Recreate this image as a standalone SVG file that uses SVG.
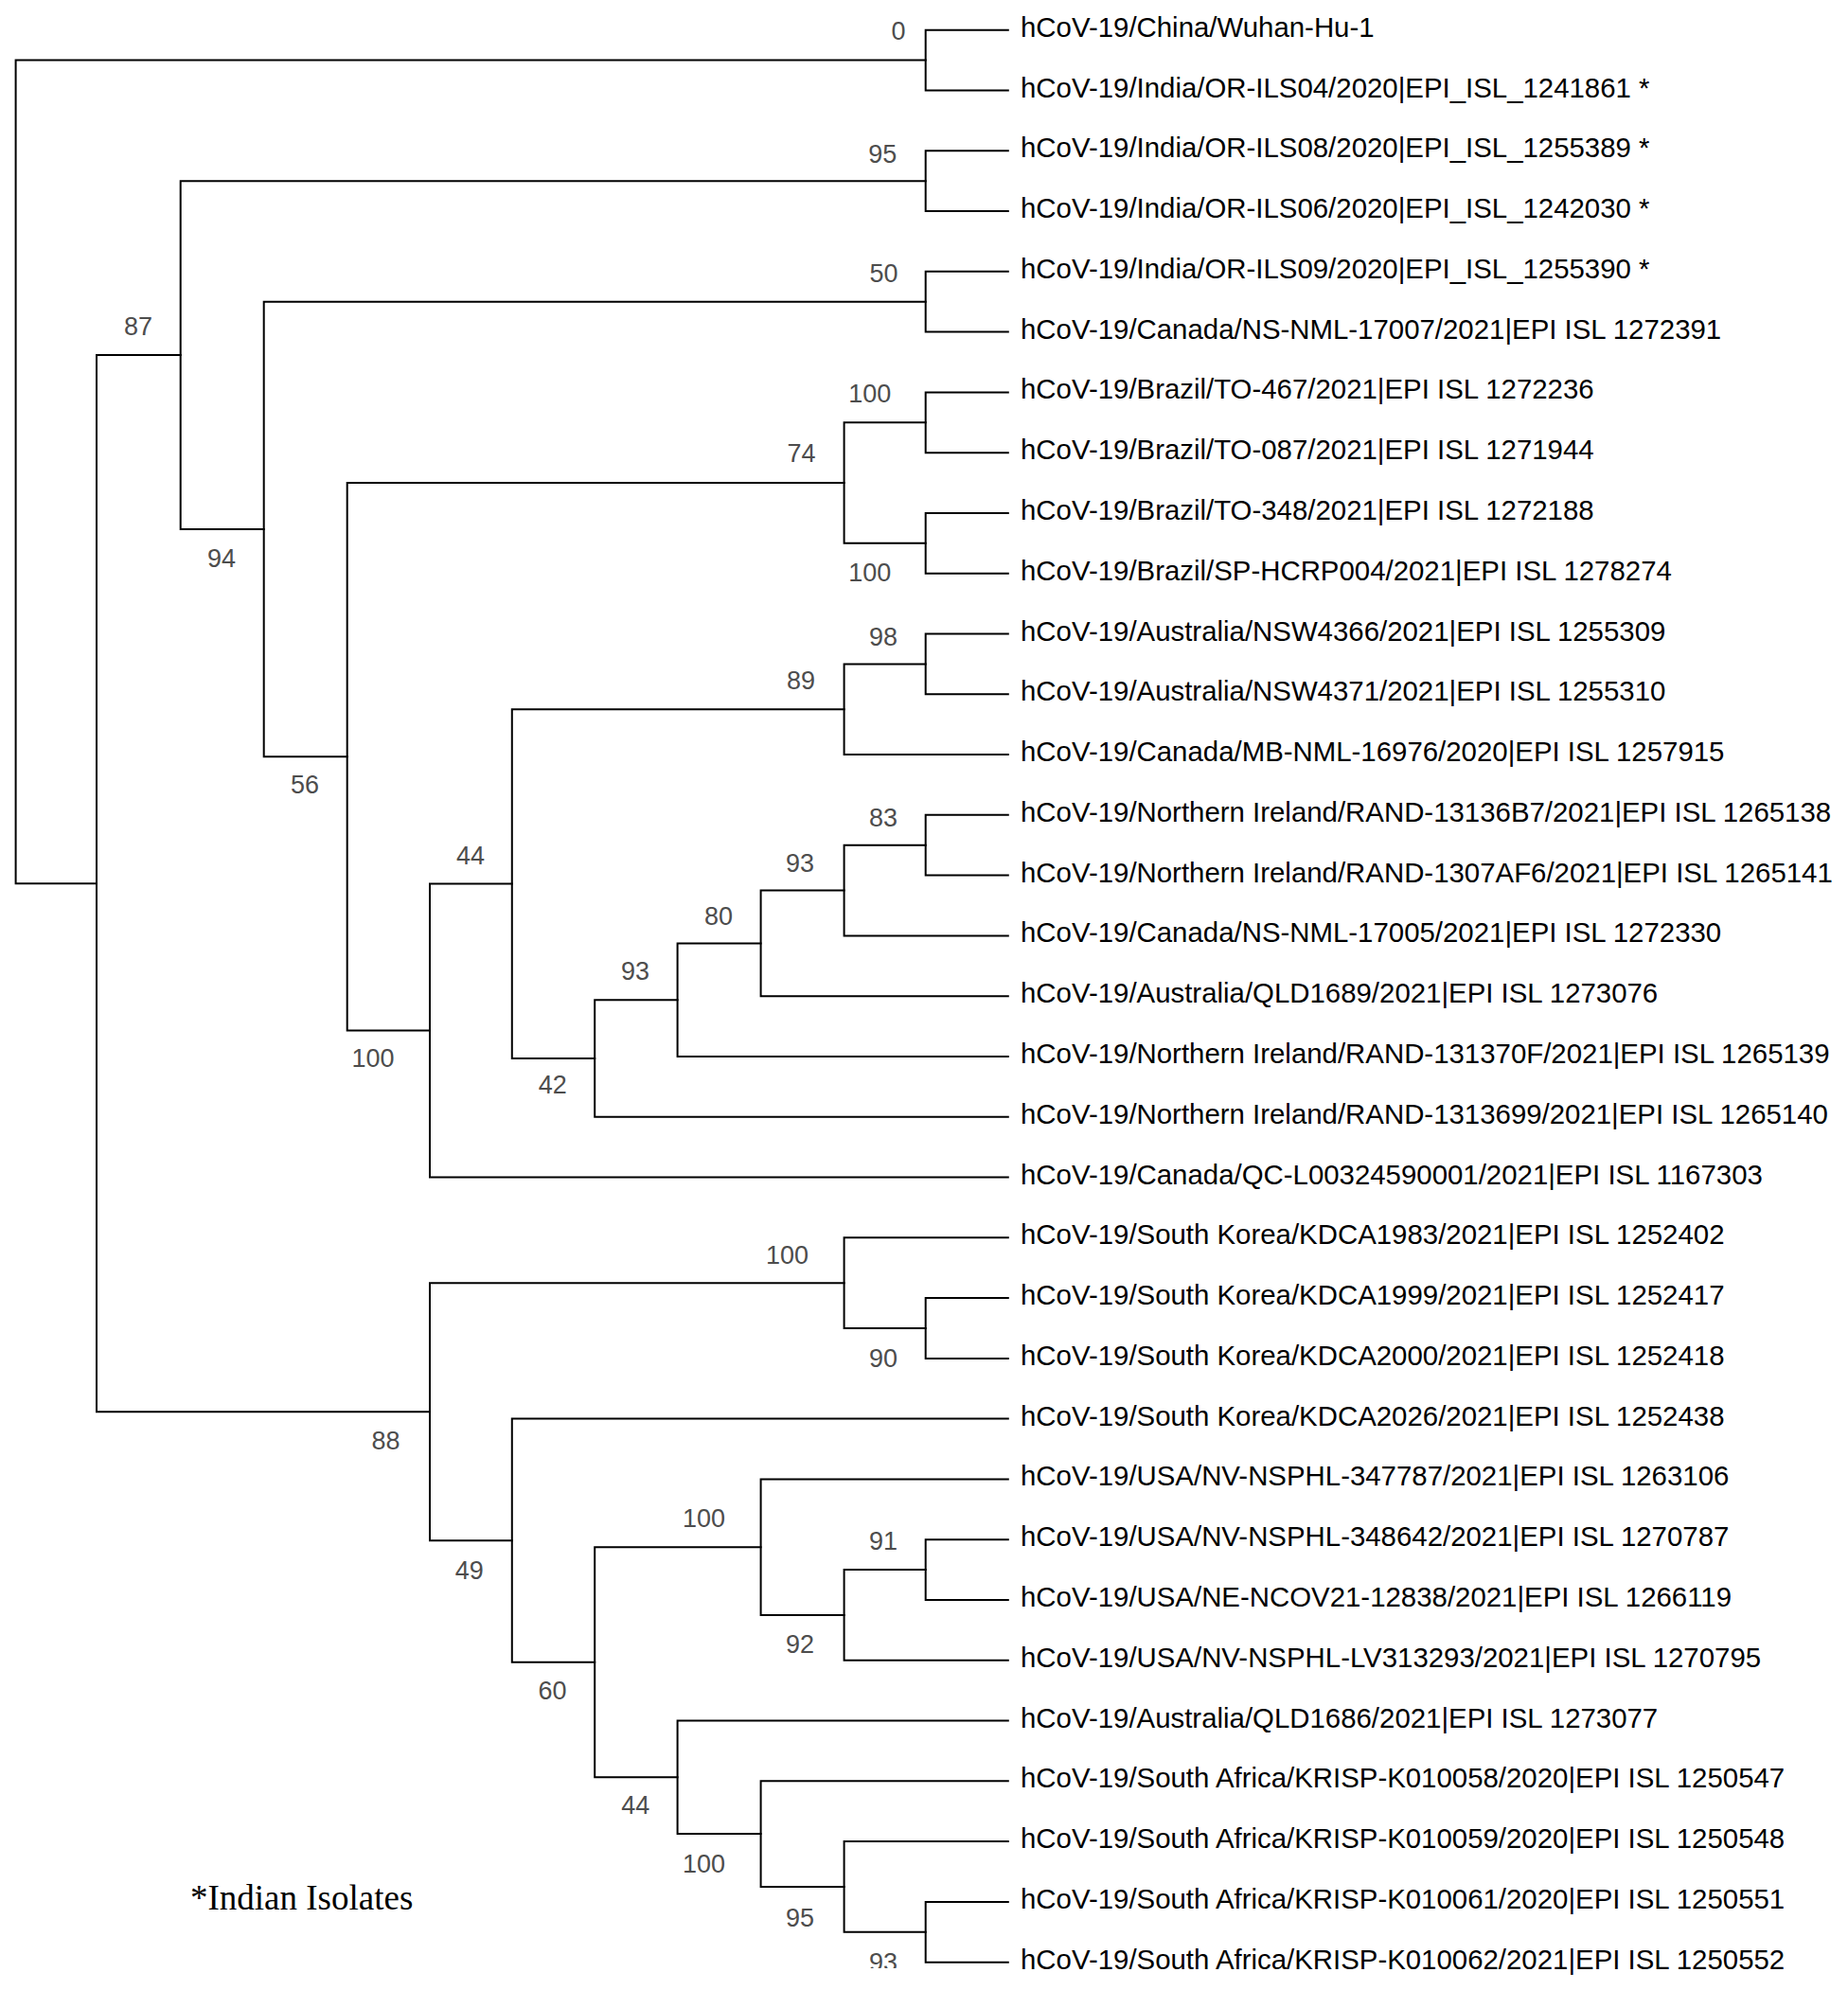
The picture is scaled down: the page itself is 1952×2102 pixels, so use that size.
<svg xmlns="http://www.w3.org/2000/svg" width="1952" height="2102" viewBox="0 0 1952 2102">
<style>
.br{fill:none;stroke:#000;stroke-width:2;stroke-linecap:square;stroke-linejoin:miter}
.leaf{font-family:"Liberation Sans",Arial,sans-serif;font-size:29.4px;fill:#000}
.bs{font-family:"Liberation Sans",Arial,sans-serif;font-size:27px;fill:#4d4d4d}
.note{font-family:"Liberation Serif","Times New Roman",serif;font-size:37px;fill:#000}
</style>
<defs>
<clipPath id="bottomClip"><rect x="0" y="0" width="1952" height="2079"/></clipPath>
</defs>
<rect x="0" y="0" width="1952" height="2102" fill="#fff"/>
<g id="connectors">
<path class="br" d="M977.7,63.6 H16.6 V933.15 H102"/>
<path class="br" d="M1064.8,31.7 H977.7 V95.5 H1064.8"/>
<path class="br" d="M190.7,375.1 H102 V1491.2 H454"/>
<path class="br" d="M977.7,191.15 H190.7 V559 H278.7"/>
<path class="br" d="M1064.8,159.3 H977.7 V223 H1064.8"/>
<path class="br" d="M977.7,318.7 H278.7 V799.3 H366.7"/>
<path class="br" d="M1064.8,286.8 H977.7 V350.6 H1064.8"/>
<path class="br" d="M891.6,510.05 H366.7 V1088.55 H454"/>
<path class="br" d="M977.7,446.3 H891.6 V573.8 H977.7"/>
<path class="br" d="M1064.8,414.4 H977.7 V478.2 H1064.8"/>
<path class="br" d="M1064.8,541.9 H977.7 V605.7 H1064.8"/>
<path class="br" d="M540.8,933.6 H454 V1243.5 H1064.8"/>
<path class="br" d="M891.6,749.25 H540.8 V1117.95 H628.2"/>
<path class="br" d="M977.7,701.4 H891.6 V797.1 H1064.8"/>
<path class="br" d="M1064.8,669.5 H977.7 V733.3 H1064.8"/>
<path class="br" d="M715.6,1056.2 H628.2 V1179.7 H1064.8"/>
<path class="br" d="M803.6,996.4 H715.6 V1116 H1064.8"/>
<path class="br" d="M891.6,940.55 H803.6 V1052.2 H1064.8"/>
<path class="br" d="M977.7,892.7 H891.6 V988.4 H1064.8"/>
<path class="br" d="M1064.8,860.8 H977.7 V924.6 H1064.8"/>
<path class="br" d="M891.6,1355.15 H454 V1627.2 H540.8"/>
<path class="br" d="M1064.8,1307.3 H891.6 V1403 H977.7"/>
<path class="br" d="M1064.8,1371.1 H977.7 V1434.9 H1064.8"/>
<path class="br" d="M1064.8,1498.6 H540.8 V1755.75 H628.2"/>
<path class="br" d="M803.6,1634.2 H628.2 V1877.3 H715.6"/>
<path class="br" d="M1064.8,1562.4 H803.6 V1705.95 H891.6"/>
<path class="br" d="M977.7,1658.1 H891.6 V1753.8 H1064.8"/>
<path class="br" d="M1064.8,1626.2 H977.7 V1690 H1064.8"/>
<path class="br" d="M1064.8,1817.5 H715.6 V1937.1 H803.6"/>
<path class="br" d="M1064.8,1881.3 H803.6 V1992.95 H891.6"/>
<path class="br" d="M1064.8,1945.1 H891.6 V2040.8 H977.7"/>
<path class="br" d="M1064.8,2008.9 H977.7 V2072.7 H1064.8"/>
</g>
<g id="leaves">
<g id="leaf01"><text class="leaf" x="1078" y="38.7">hCoV-19/China/Wuhan-Hu-1</text></g>
<g id="leaf02"><text class="leaf" x="1078" y="102.5">hCoV-19/India/OR-ILS04/2020|EPI_ISL_1241861 *</text></g>
<g id="leaf03"><text class="leaf" x="1078" y="166.3">hCoV-19/India/OR-ILS08/2020|EPI_ISL_1255389 *</text></g>
<g id="leaf04"><text class="leaf" x="1078" y="230">hCoV-19/India/OR-ILS06/2020|EPI_ISL_1242030 *</text></g>
<g id="leaf05"><text class="leaf" x="1078" y="293.8">hCoV-19/India/OR-ILS09/2020|EPI_ISL_1255390 *</text></g>
<g id="leaf06"><text class="leaf" x="1078" y="357.6">hCoV-19/Canada/NS-NML-17007/2021|EPI ISL 1272391</text></g>
<g id="leaf07"><text class="leaf" x="1078" y="421.4">hCoV-19/Brazil/TO-467/2021|EPI ISL 1272236</text></g>
<g id="leaf08"><text class="leaf" x="1078" y="485.2">hCoV-19/Brazil/TO-087/2021|EPI ISL 1271944</text></g>
<g id="leaf09"><text class="leaf" x="1078" y="548.9">hCoV-19/Brazil/TO-348/2021|EPI ISL 1272188</text></g>
<g id="leaf10"><text class="leaf" x="1078" y="612.7">hCoV-19/Brazil/SP-HCRP004/2021|EPI ISL 1278274</text></g>
<g id="leaf11"><text class="leaf" x="1078" y="676.5">hCoV-19/Australia/NSW4366/2021|EPI ISL 1255309</text></g>
<g id="leaf12"><text class="leaf" x="1078" y="740.3">hCoV-19/Australia/NSW4371/2021|EPI ISL 1255310</text></g>
<g id="leaf13"><text class="leaf" x="1078" y="804.1">hCoV-19/Canada/MB-NML-16976/2020|EPI ISL 1257915</text></g>
<g id="leaf14"><text class="leaf" x="1078" y="867.8">hCoV-19/Northern Ireland/RAND-13136B7/2021|EPI ISL 1265138</text></g>
<g id="leaf15"><text class="leaf" x="1078" y="931.6">hCoV-19/Northern Ireland/RAND-1307AF6/2021|EPI ISL 1265141</text></g>
<g id="leaf16"><text class="leaf" x="1078" y="995.4">hCoV-19/Canada/NS-NML-17005/2021|EPI ISL 1272330</text></g>
<g id="leaf17"><text class="leaf" x="1078" y="1059.2">hCoV-19/Australia/QLD1689/2021|EPI ISL 1273076</text></g>
<g id="leaf18"><text class="leaf" x="1078" y="1123">hCoV-19/Northern Ireland/RAND-131370F/2021|EPI ISL 1265139</text></g>
<g id="leaf19"><text class="leaf" x="1078" y="1186.7">hCoV-19/Northern Ireland/RAND-1313699/2021|EPI ISL 1265140</text></g>
<g id="leaf20"><text class="leaf" x="1078" y="1250.5">hCoV-19/Canada/QC-L00324590001/2021|EPI ISL 1167303</text></g>
<g id="leaf21"><text class="leaf" x="1078" y="1314.3">hCoV-19/South Korea/KDCA1983/2021|EPI ISL 1252402</text></g>
<g id="leaf22"><text class="leaf" x="1078" y="1378.1">hCoV-19/South Korea/KDCA1999/2021|EPI ISL 1252417</text></g>
<g id="leaf23"><text class="leaf" x="1078" y="1441.9">hCoV-19/South Korea/KDCA2000/2021|EPI ISL 1252418</text></g>
<g id="leaf24"><text class="leaf" x="1078" y="1505.6">hCoV-19/South Korea/KDCA2026/2021|EPI ISL 1252438</text></g>
<g id="leaf25"><text class="leaf" x="1078" y="1569.4">hCoV-19/USA/NV-NSPHL-347787/2021|EPI ISL 1263106</text></g>
<g id="leaf26"><text class="leaf" x="1078" y="1633.2">hCoV-19/USA/NV-NSPHL-348642/2021|EPI ISL 1270787</text></g>
<g id="leaf27"><text class="leaf" x="1078" y="1697">hCoV-19/USA/NE-NCOV21-12838/2021|EPI ISL 1266119</text></g>
<g id="leaf28"><text class="leaf" x="1078" y="1760.8">hCoV-19/USA/NV-NSPHL-LV313293/2021|EPI ISL 1270795</text></g>
<g id="leaf29"><text class="leaf" x="1078" y="1824.5">hCoV-19/Australia/QLD1686/2021|EPI ISL 1273077</text></g>
<g id="leaf30"><text class="leaf" x="1078" y="1888.3">hCoV-19/South Africa/KRISP-K010058/2020|EPI ISL 1250547</text></g>
<g id="leaf31"><text class="leaf" x="1078" y="1952.1">hCoV-19/South Africa/KRISP-K010059/2020|EPI ISL 1250548</text></g>
<g id="leaf32"><text class="leaf" x="1078" y="2015.9">hCoV-19/South Africa/KRISP-K010061/2020|EPI ISL 1250551</text></g>
<g id="leaf33"><text class="leaf" x="1078" y="2079.7">hCoV-19/South Africa/KRISP-K010062/2021|EPI ISL 1250552</text></g>
</g>
<g id="bootstrap">
<g id="nodeA"><text class="bs" x="941.5" y="41.7">0</text></g>
<g id="nodeN95"><text class="bs" x="917.3" y="171.7">95</text></g>
<g id="nodeN50"><text class="bs" x="918.5" y="298.3">50</text></g>
<g id="nodeC"><text class="bs" x="131" y="354">87</text></g>
<g id="nodeG1"><text class="bs" x="896.3" y="425">100</text></g>
<g id="nodeG"><text class="bs" x="831.5" y="488.3">74</text></g>
<g id="nodeD"><text class="bs" x="219" y="599.3">94</text></g>
<g id="nodeG2"><text class="bs" x="896.3" y="614">100</text></g>
<g id="nodeH1"><text class="bs" x="918" y="681.7">98</text></g>
<g id="nodeH"><text class="bs" x="831" y="728.3">89</text></g>
<g id="nodeE"><text class="bs" x="307" y="838.3">56</text></g>
<g id="nodeO"><text class="bs" x="918" y="872.7">83</text></g>
<g id="nodeI"><text class="bs" x="482" y="913.3">44</text></g>
<g id="nodeN"><text class="bs" x="830" y="920.7">93</text></g>
<g id="nodeM"><text class="bs" x="744" y="976.7">80</text></g>
<g id="nodeL"><text class="bs" x="656" y="1035">93</text></g>
<g id="nodeF"><text class="bs" x="371.5" y="1126.7">100</text></g>
<g id="nodeJ"><text class="bs" x="568.8" y="1155">42</text></g>
<g id="nodeP"><text class="bs" x="809" y="1335">100</text></g>
<g id="nodeP2"><text class="bs" x="918" y="1444">90</text></g>
<g id="nodeK"><text class="bs" x="392.5" y="1530.7">88</text></g>
<g id="nodeT"><text class="bs" x="721" y="1613.3">100</text></g>
<g id="nodeW"><text class="bs" x="918" y="1637.3">91</text></g>
<g id="nodeQ"><text class="bs" x="480.8" y="1668.3">49</text></g>
<g id="nodeV"><text class="bs" x="830" y="1746">92</text></g>
<g id="nodeS"><text class="bs" x="568.5" y="1794.5">60</text></g>
<g id="nodeU"><text class="bs" x="656.2" y="1916">44</text></g>
<g id="nodeX"><text class="bs" x="721" y="1978.3">100</text></g>
<g id="nodeY"><text class="bs" x="830" y="2035">95</text></g>
<g id="nodeZ" clip-path="url(#bottomClip)"><text class="bs" x="918" y="2082">93</text></g>
</g>
<g id="legend"><text class="note" x="201" y="2017.3">*Indian Isolates</text></g>
</svg>
